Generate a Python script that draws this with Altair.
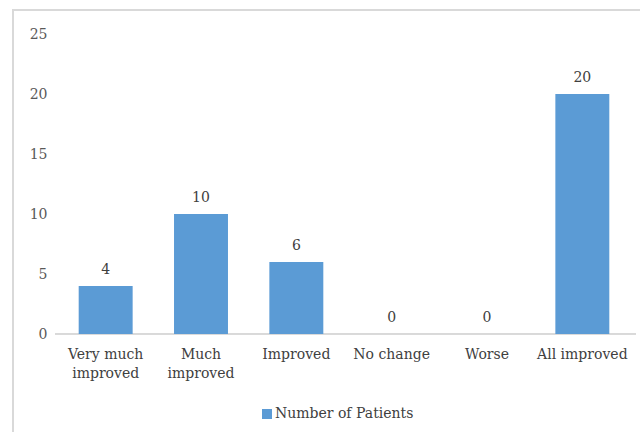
import altair as alt
import pandas as pd

categories = ["Very much improved", "Much improved", "Improved", "No change", "Worse", "All improved"]
patients = [4, 10, 6, 0, 0, 20]
series_name = "Number of Patients"

df = pd.DataFrame({"category": categories, "patients": patients, "series": [series_name] * len(categories)})

FONT = "DejaVu Serif"
W, H = 572, 300

x_enc = alt.X(
    "category:N",
    sort=categories,
    scale=alt.Scale(paddingInner=0.434, paddingOuter=0.217),
    axis=alt.Axis(
        title=None, labelAngle=0, domain=False, ticks=False,
        labelPadding=13, labelFontSize=14, labelFont=FONT, labelColor="#404040",
        labelLineHeight=19,
        labelExpr="datum.value == 'Very much improved' ? ['Very much', 'improved'] : datum.value == 'Much improved' ? ['Much', 'improved'] : datum.value",
    ),
)
y_scale = alt.Scale(domain=[0, 25], nice=False, zero=True)

bars = alt.Chart(df).mark_bar(color="#5b9bd5").encode(
    x=x_enc,
    y=alt.Y(
        "patients:Q", scale=y_scale,
        axis=alt.Axis(
            title=None, values=[0, 5, 10, 15, 20, 25], grid=False, domain=False, ticks=False,
            labelPadding=11, labelFontSize=14, labelFont=FONT, labelColor="#595959",
        ),
    ),
    color=alt.Color(
        "series:N",
        scale=alt.Scale(range=["#5b9bd5"]),
        legend=alt.Legend(
            title=None, orient="none", legendX=202, legendY=373,
            symbolType="square", symbolSize=100, symbolStrokeWidth=0,
            labelFont=FONT, labelFontSize=14, labelColor="#404040", labelOffset=1,
            padding=0,
        ),
    ),
)

labels = alt.Chart(df).mark_text(
    dy=-9, font=FONT, fontSize=14, color="#404040", baseline="bottom"
).encode(
    x=alt.X("category:N", sort=categories),
    y=alt.Y("patients:Q", scale=y_scale),
    text="patients:Q",
)

baseline = alt.Chart(df).mark_rule(color="#d9d9d9", strokeWidth=1).encode(
    y=alt.Y(datum=0, scale=y_scale), x=alt.value(-3), x2=alt.value(W + 6)
)

border = alt.Chart(df).mark_rect(fill=None, stroke="#d9d9d9", strokeWidth=1.5).encode(
    x=alt.value(-45), x2=alt.value(W + 40), y=alt.value(-24), y2=alt.value(H + 200)
)

chart = alt.layer(border, baseline, bars, labels).properties(
    width=W, height=H,
    padding={"left": 58, "top": 34, "right": 10, "bottom": 98},
    autosize=alt.AutoSizeParams(type="none"),
    background="white",
).configure_view(stroke=None)

chart.save("out.html", embed_options={"renderer": "svg", "actions": False})
